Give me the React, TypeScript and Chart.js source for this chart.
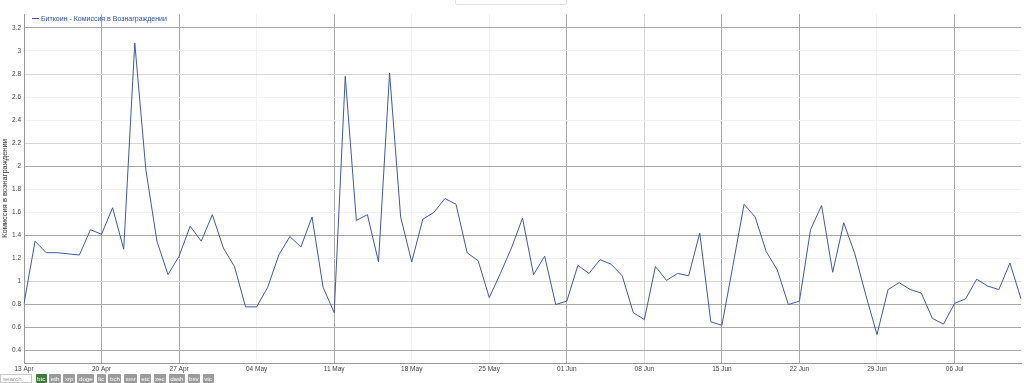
import React, { useEffect, useRef } from "react";
import { Chart, registerables } from "chart.js";

Chart.register(...registerables);

// ---- data ----
const seriesLabel = "Биткоин - Комиссия в Вознаграждении";
const yAxisTitle = "Комиссия в вознаграждении";
const monthNames = ["Jan", "Feb", "Mar", "Apr", "May", "Jun", "Jul", "Aug", "Sep", "Oct", "Nov", "Dec"];
const startYear = 2020;
const startMonth = 3; // April
const startDay = 13;

// daily values, 13 Apr .. 12 Jul
const feeInReward = [
  0.81, 1.35, 1.25, 1.25, 1.24, 1.23, 1.45, 1.41, 1.64, 1.28,
  3.07, 1.97, 1.35, 1.06, 1.22, 1.48, 1.35, 1.58, 1.29, 1.13,
  0.78, 0.78, 0.95, 1.23, 1.39, 1.30, 1.56, 0.95, 0.73, 2.78,
  1.53, 1.58, 1.17, 2.81, 1.56, 1.17, 1.54, 1.60, 1.72, 1.67,
  1.25, 1.18, 0.86, 1.07, 1.29, 1.55, 1.06, 1.22, 0.80, 0.83,
  1.14, 1.07, 1.19, 1.15, 1.05, 0.73, 0.67, 1.13, 1.01, 1.07,
  1.05, 1.42, 0.65, 0.62, 1.14, 1.67, 1.56, 1.26, 1.10, 0.80,
  0.83, 1.45, 1.66, 1.08, 1.51, 1.24, 0.88, 0.54, 0.93, 0.99,
  0.93, 0.90, 0.68, 0.63, 0.81, 0.85, 1.02, 0.96, 0.93, 1.16,
  0.85,
];

const dateLabels = feeInReward.map((_, i) => {
  const d = new Date(Date.UTC(startYear, startMonth, startDay + i));
  return `${String(d.getUTCDate()).padStart(2, "0")} ${monthNames[d.getUTCMonth()]}`;
});

const yTickValues = [0.4, 0.6, 0.8, 1, 1.2, 1.4, 1.6, 1.8, 2, 2.2, 2.4, 2.6, 2.8, 3, 3.2];
const yMin = 0.293;
const yMax = 3.321;
const weekEvery = 7;

const coinButtons = ["btc", "eth", "xrp", "doge", "ltc", "bch", "xmr", "etc", "zec", "dash", "bsv", "vtc"];

// ---- styling helpers (mimic the rendered grid weight) ----
const darkGrid = "#a9a9a9";
const midGrid = "#d6d6d6";
const faintGrid = "#f1f1f1";
const xDarkLabels = ["20 Apr", "27 Apr", "11 May", "01 Jun", "15 Jun", "22 Jun", "06 Jul"];
const xMidLabels = ["08 Jun"];
const yDarkVals = [3.2, 2, 1.4, 0.8, 0.6, 0.4];
const yMidVals = [2.8, 2.2, 1];

const FONT = '"Liberation Sans", Arial, sans-serif';
const LINE_COLOR = "#3d59a8";

export default function App() {
  const canvasRef = useRef<HTMLCanvasElement | null>(null);

  useEffect(() => {
    const canvas = canvasRef.current;
    if (!canvas) return;
    const chart = new Chart(canvas, {
      type: "line",
      data: {
        labels: dateLabels,
        datasets: [
          {
            label: seriesLabel,
            data: feeInReward,
            borderColor: LINE_COLOR,
            backgroundColor: LINE_COLOR,
            borderWidth: 1,
            pointRadius: 0,
            tension: 0,
          },
        ],
      },
      options: {
        responsive: false,
        animation: false,
        devicePixelRatio: 1,
        layout: { padding: { top: 14, right: 3, left: 0, bottom: 0 } },
        plugins: {
          tooltip: { enabled: false },
          legend: { display: false },
        },
        scales: {
          x: {
            type: "category",
            offset: false,
            border: { color: "#999", width: 1 },
            grid: {
              drawTicks: false,
              lineWidth: 1,
              color: (ctx: any) => {
                const idx = ctx.tick ? Number(ctx.tick.value) : ctx.index;
                const lab = dateLabels[idx];
                if (xDarkLabels.includes(lab)) return darkGrid;
                if (xMidLabels.includes(lab)) return midGrid;
                return faintGrid;
              },
            },
            ticks: {
              autoSkip: false,
              maxRotation: 0,
              minRotation: 0,
              padding: 2,
              color: "#444",
              font: { size: 6.5, family: FONT },
              callback: (_v: any, i: number) => (i % weekEvery === 0 ? dateLabels[i] : null),
            },
            afterFit: (s: any) => {
              s.height = 20;
            },
          },
          y: {
            min: yMin,
            max: yMax,
            afterBuildTicks: (s: any) => {
              s.ticks = yTickValues.map((v) => ({ value: v }));
            },
            border: { color: "#999", width: 1 },
            grid: {
              drawTicks: false,
              lineWidth: 1,
              color: (ctx: any) => {
                const v = ctx.tick ? Math.round(ctx.tick.value * 10) / 10 : 0;
                if (yDarkVals.includes(v)) return darkGrid;
                if (yMidVals.includes(v)) return midGrid;
                return faintGrid;
              },
            },
            ticks: {
              padding: 3,
              color: "#444",
              font: { size: 6.5, family: FONT },
              callback: (v: any) => String(Math.round(Number(v) * 10) / 10),
            },
            title: {
              display: true,
              text: yAxisTitle,
              color: "#333",
              font: { size: 7.5, family: FONT },
              padding: { top: 0, bottom: 0 },
            },
            afterFit: (s: any) => {
              s.width = 24;
            },
          },
        },
      },
    });
    return () => chart.destroy();
  }, []);

  return (
    <div
      style={{
        position: "fixed",
        left: 0,
        top: 0,
        width: 1024,
        height: 383,
        background: "#fff",
        overflow: "hidden",
        fontFamily: FONT,
      }}
    >
      <canvas ref={canvasRef} width={1024} height={383} style={{ position: "absolute", left: 0, top: 0 }} />
      <div
        style={{
          position: "absolute",
          left: 455,
          top: -6,
          width: 110,
          height: 9,
          border: "1px solid #e2e2e2",
          borderRadius: 2,
          background: "#fff",
        }}
      />
      <div
        style={{
          position: "absolute",
          left: 32,
          top: 14,
          height: 9,
          display: "flex",
          alignItems: "center",
          fontSize: 7,
          color: "#2f50a8",
          whiteSpace: "nowrap",
        }}
      >
        <span style={{ display: "inline-block", width: 7, height: 1, background: LINE_COLOR, marginRight: 2 }} />
        <span>{seriesLabel}</span>
      </div>
      <div
        style={{
          position: "absolute",
          left: 0,
          top: 373,
          height: 10,
          display: "flex",
          alignItems: "center",
          gap: 2.5,
          fontSize: 6.2,
          lineHeight: "9px",
        }}
      >
        <span
          style={{
            display: "inline-block",
            width: 32,
            height: 9,
            border: "1px solid #c8c8c8",
            color: "#999",
            paddingLeft: 2,
            boxSizing: "border-box",
            lineHeight: "7px",
            marginRight: 1,
          }}
        >
          search
        </span>
        {coinButtons.map((c, i) => (
          <span
            key={c}
            style={{
              display: "inline-block",
              height: 9,
              padding: "0 1.5px",
              background: i === 0 ? "#3e7a3a" : "#9b9b9b",
              color: "#fff",
              borderRadius: 1,
            }}
          >
            {c}
          </span>
        ))}
      </div>
    </div>
  );
}
